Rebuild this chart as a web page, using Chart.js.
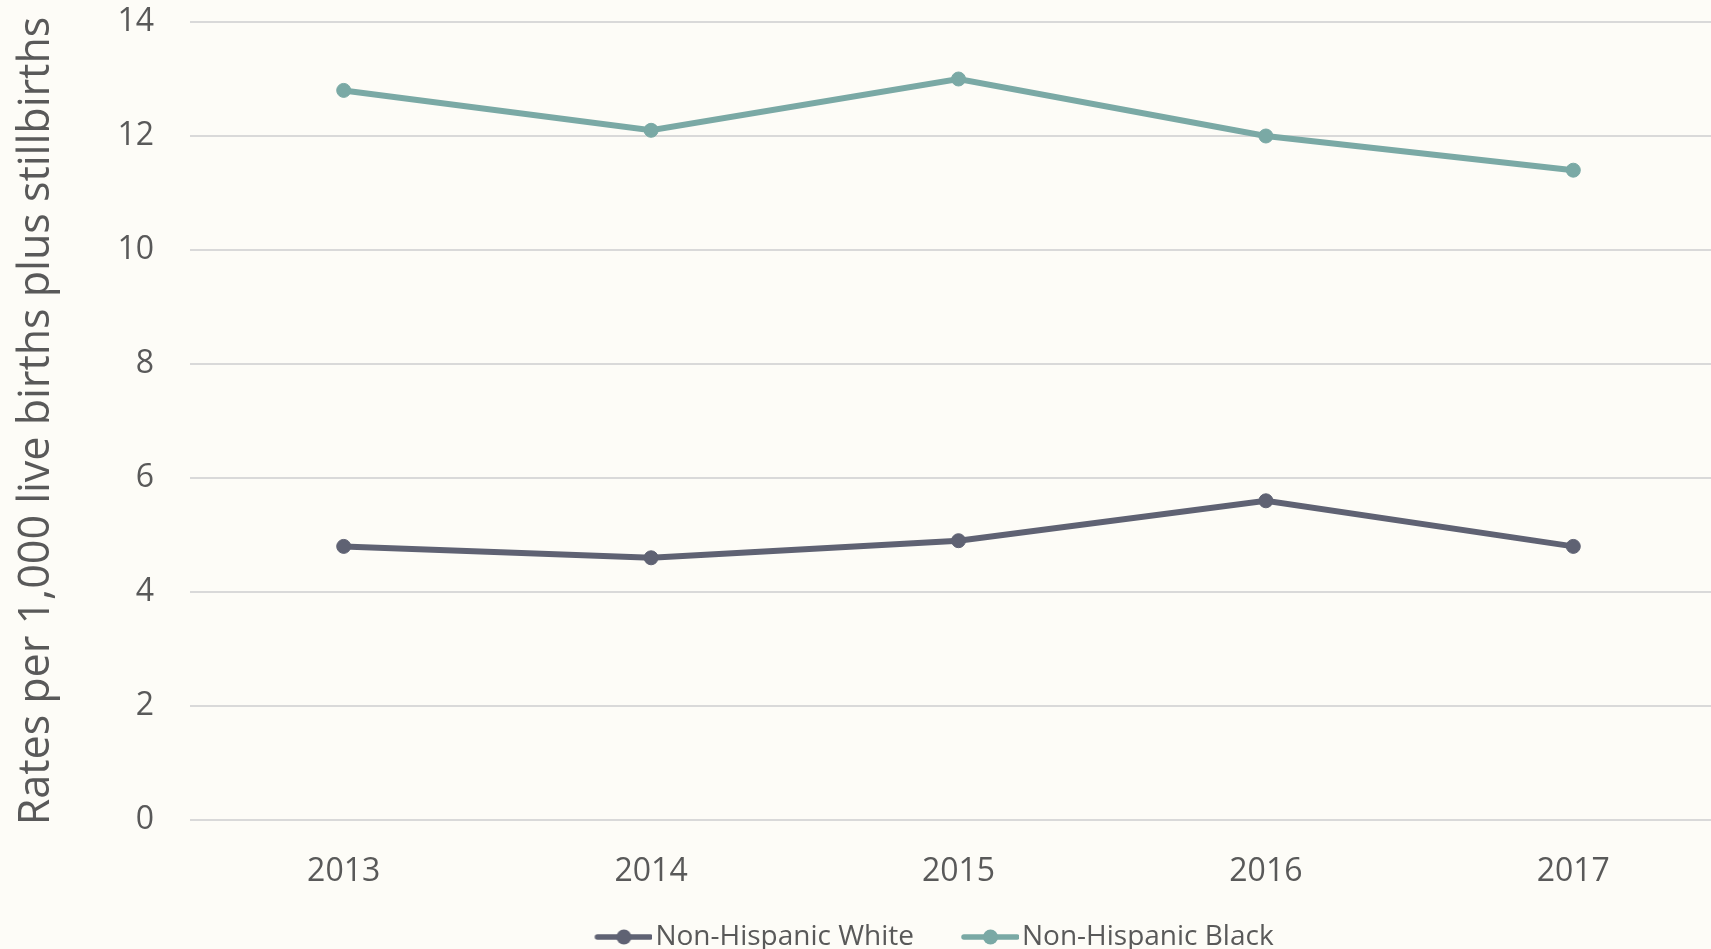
<!DOCTYPE html>
<html>
<head>
<meta charset="utf-8">
<script src="https://cdn.jsdelivr.net/npm/chart.js@4.4.1/dist/chart.umd.min.js"></script>
<style>
  html, body { margin: 0; padding: 0; background: #fdfcf7; overflow: hidden; }
  #wrap { position: relative; width: 1735px; height: 961px; }
</style>
</head>
<body>
<div id="wrap"><canvas id="chart" width="1735" height="961"></canvas></div>
<script>
const years = ['2013', '2014', '2015', '2016', '2017'];
const whiteRates = [4.8, 4.6, 4.9, 5.6, 4.8];
const blackRates = [12.8, 12.1, 13.0, 12.0, 11.4];
const yTicks = [0, 2, 4, 6, 8, 10, 12, 14];

const textColor = '#595959';
const whiteColor = '#5f6273';
const blackColor = '#7aa9a5';

// legend marker: line with a dot, drawn in the right part of the image
// so it sits close to the label text
function marker(color) {
  const c = document.createElement('canvas');
  c.width = 86;
  c.height = 18;
  const g = c.getContext('2d');
  g.strokeStyle = color;
  g.lineWidth = 5.5;
  g.lineCap = 'round';
  g.beginPath();
  g.moveTo(31, 9);
  g.lineTo(84, 9);
  g.stroke();
  g.fillStyle = color;
  g.beginPath();
  g.arc(57.5, 9, 7.5, 0, Math.PI * 2);
  g.fill();
  return c;
}

// nudge legend to where the original sits
const legendShift = {
  id: 'legendShift',
  afterLayout(chart) {
    chart.legend.left -= 33;
    chart.legend.right -= 33;
  }
};

Chart.defaults.font.family = '"Open Sans", sans-serif';
Chart.defaults.color = textColor;

new Chart(document.getElementById('chart').getContext('2d'), {
  type: 'line',
  data: {
    labels: years,
    datasets: [
      {
        label: 'Non-Hispanic White',
        data: whiteRates,
        borderColor: whiteColor,
        backgroundColor: whiteColor,
        borderWidth: 6,
        pointRadius: 7,
        pointBorderWidth: 1,
        pointHoverRadius: 7,
        tension: 0
      },
      {
        label: 'Non-Hispanic Black',
        data: blackRates,
        borderColor: blackColor,
        backgroundColor: blackColor,
        borderWidth: 6,
        pointRadius: 7,
        pointBorderWidth: 1,
        pointHoverRadius: 7,
        tension: 0
      }
    ]
  },
  options: {
    responsive: false,
    animation: false,
    layout: { padding: { top: 22, left: 0, right: 0, bottom: 0 } },
    plugins: {
      tooltip: { enabled: false },
      legend: {
        position: 'bottom',
        fullSize: false,
        labels: {
          usePointStyle: true,
          pointStyleWidth: 64,
          padding: 30,
          font: { size: 28 },
          color: textColor,
          generateLabels: (chart) => chart.data.datasets.map((ds, i) => ({
            text: ds.label,
            pointStyle: marker(ds.borderColor),
            fillStyle: ds.borderColor,
            strokeStyle: ds.borderColor,
            lineWidth: 0,
            fontColor: textColor,
            hidden: false,
            datasetIndex: i
          }))
        }
      }
    },
    scales: {
      x: {
        offset: true,
        grid: { display: false, drawTicks: false },
        border: { display: false },
        ticks: { font: { size: 32 }, color: textColor, padding: 33 },
        afterFit: (scale) => {
          scale.height = 73;
          scale.paddingLeft = 0;
          scale.paddingRight = 0;
        }
      },
      y: {
        min: 0,
        max: 14,
        afterBuildTicks: (scale) => { scale.ticks = yTicks.map(v => ({ value: v })); },
        grid: { color: '#d9d9d9', lineWidth: 2, drawTicks: false },
        border: { display: false },
        ticks: { font: { size: 32 }, color: textColor, padding: 36 },
        title: {
          display: true,
          text: 'Rates per 1,000 live births plus stillbirths',
          font: { size: 43 },
          color: textColor,
          padding: { top: 11, bottom: 0 }
        },
        afterFit: (scale) => {
          scale.width = 190;
          scale.paddingTop = 0;
          scale.paddingBottom = 0;
        }
      }
    }
  },
  plugins: [legendShift]
});
</script>
</body>
</html>
